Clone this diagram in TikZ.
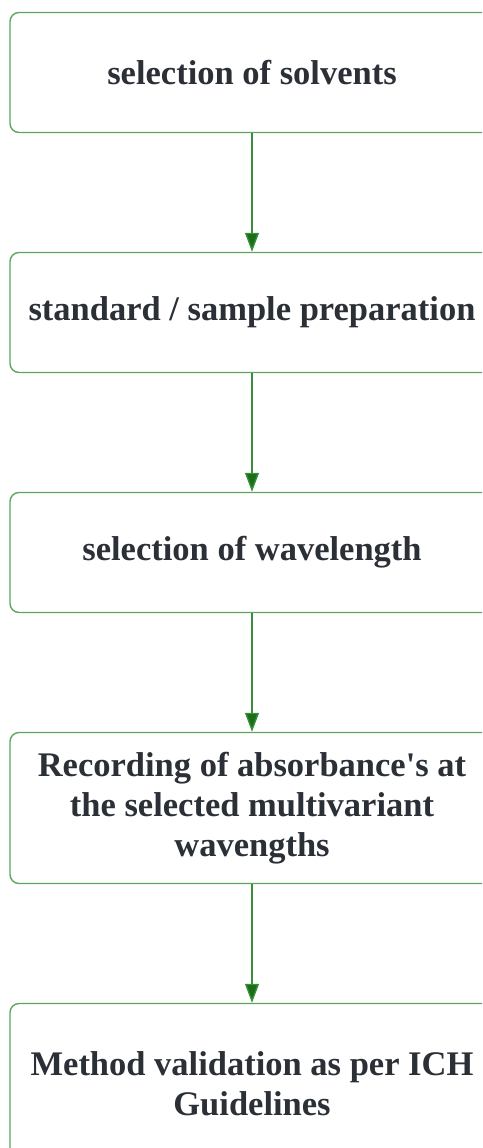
\documentclass[tikz,border=0pt]{standalone}
\usepackage{fontspec}
\setmainfont{Liberation Serif}
\usepackage{xcolor}
\usetikzlibrary{positioning, arrows.meta}
\definecolor{boxline}{HTML}{5CA65C}
\definecolor{arline}{HTML}{3A8F3A}
\definecolor{arhead}{HTML}{1A6E1A}
\definecolor{txt}{HTML}{2B2F36}

\begin{document}
\begin{tikzpicture}[x=1pt, y=1pt,
    st/.style={rectangle, rounded corners=9pt, draw=boxline, line width=1.4pt,
        minimum width=484pt, minimum height=120pt, align=center,
        text=txt, font=\fontsize{34.5}{40}\selectfont\bfseries},
    ar/.style={-{Triangle[length=19pt, width=14pt, fill=arhead]}, draw=arline, line width=1.4pt},
    node distance=118.6pt]
\clip (0,0) rectangle (482,-1148);
\node[st] (S) at (252,-72.5) {selection of solvents};
\node[st, below=of S] (P) {standard / sample preparation};
\node[st, below=of P] (W) {selection of wavelength};
\node[st, below=of W, minimum height=151pt] (R) {Recording of absorbance\textquotesingle s at\\the selected multivariant\\wavengths};
\node[st, below=of R, minimum height=160pt] (V) {Method validation as per ICH\\Guidelines};
\draw[ar] (S) -- (P);
\draw[ar] (P) -- (W);
\draw[ar] (W) -- (R);
\draw[ar] (R) -- (V);
\end{tikzpicture}
\end{document}
